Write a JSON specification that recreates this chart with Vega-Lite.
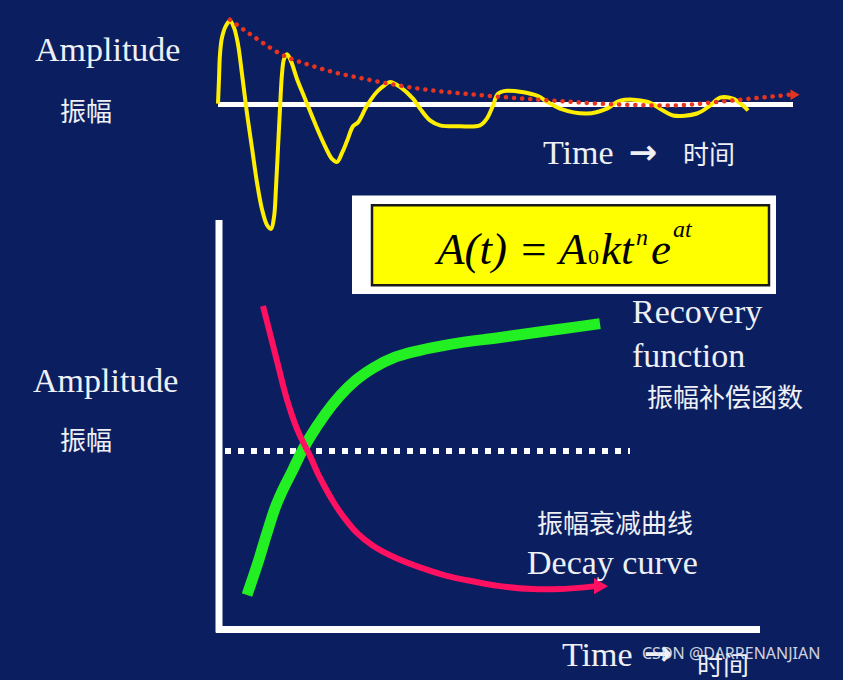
{
  "$schema": "https://vega.github.io/schema/vega-lite/v6.json",
  "width": 843,
  "height": 680,
  "autosize": {"type": "fit", "contains": "padding"},
  "padding": 0,
  "background": "#0b1f60",
  "config": {"view": {"stroke": null}},
  "datasets": {
    "box": [{"x": 352, "x2": 776, "y": 198, "y2": 298}],
    "ybox": [{"x": 372, "x2": 769, "y": 208, "y2": 289}],
    "axes": [
      {"x": 218, "x2": 793, "y": 106, "y2": 106, "w": "top"},
      {"x": 219, "x2": 219, "y": 223, "y2": 641, "w": "bottom"},
      {"x": 216, "x2": 760, "y": 638, "y2": 638, "w": "bottom"}
    ],
    "ref": [{"x": 225, "x2": 630, "y": 457, "y2": 457}],
    "wave": [
      {"i": 1, "x": 218, "y": 105}, {"i": 2, "x": 219, "y": 80}, {"i": 3, "x": 220, "y": 55},
      {"i": 4, "x": 222, "y": 38}, {"i": 5, "x": 226, "y": 26}, {"i": 6, "x": 230, "y": 21},
      {"i": 7, "x": 234, "y": 28}, {"i": 8, "x": 238, "y": 45}, {"i": 9, "x": 242, "y": 75},
      {"i": 10, "x": 247, "y": 115}, {"i": 11, "x": 252, "y": 150}, {"i": 12, "x": 257, "y": 185},
      {"i": 13, "x": 262, "y": 212}, {"i": 14, "x": 267, "y": 228}, {"i": 15, "x": 271, "y": 232},
      {"i": 16, "x": 274, "y": 220}, {"i": 17, "x": 276, "y": 190}, {"i": 18, "x": 278, "y": 150},
      {"i": 19, "x": 280, "y": 110}, {"i": 20, "x": 282, "y": 75}, {"i": 21, "x": 284, "y": 60},
      {"i": 22, "x": 287, "y": 55}, {"i": 23, "x": 291, "y": 62}, {"i": 24, "x": 297, "y": 80},
      {"i": 25, "x": 305, "y": 100}, {"i": 26, "x": 315, "y": 125}, {"i": 27, "x": 325, "y": 148},
      {"i": 28, "x": 332, "y": 161}, {"i": 29, "x": 337, "y": 164}, {"i": 30, "x": 342, "y": 155},
      {"i": 31, "x": 347, "y": 143}, {"i": 32, "x": 353, "y": 128}, {"i": 33, "x": 358, "y": 124},
      {"i": 34, "x": 367, "y": 107}, {"i": 35, "x": 377, "y": 93}, {"i": 36, "x": 385, "y": 86},
      {"i": 37, "x": 390, "y": 83}, {"i": 38, "x": 400, "y": 88}, {"i": 39, "x": 413, "y": 100},
      {"i": 40, "x": 420, "y": 110}, {"i": 41, "x": 430, "y": 122}, {"i": 42, "x": 440, "y": 127},
      {"i": 43, "x": 460, "y": 128}, {"i": 44, "x": 480, "y": 127}, {"i": 45, "x": 487, "y": 120},
      {"i": 46, "x": 493, "y": 107}, {"i": 47, "x": 498, "y": 95}, {"i": 48, "x": 507, "y": 92},
      {"i": 49, "x": 537, "y": 97}, {"i": 50, "x": 547, "y": 103}, {"i": 51, "x": 560, "y": 110},
      {"i": 52, "x": 587, "y": 115}, {"i": 53, "x": 607, "y": 110}, {"i": 54, "x": 620, "y": 102},
      {"i": 55, "x": 647, "y": 103}, {"i": 56, "x": 663, "y": 112}, {"i": 57, "x": 673, "y": 117},
      {"i": 58, "x": 697, "y": 115}, {"i": 59, "x": 710, "y": 107}, {"i": 60, "x": 720, "y": 99},
      {"i": 61, "x": 733, "y": 100}, {"i": 62, "x": 743, "y": 107}, {"i": 63, "x": 748, "y": 112}
    ],
    "envelope": [
      {"x": 230, "y": 20}, {"x": 255, "y": 38}, {"x": 283, "y": 56}, {"x": 310, "y": 66},
      {"x": 333, "y": 73}, {"x": 360, "y": 79}, {"x": 390, "y": 85}, {"x": 420, "y": 90},
      {"x": 487, "y": 97}, {"x": 553, "y": 102}, {"x": 620, "y": 106}, {"x": 670, "y": 107},
      {"x": 720, "y": 103}, {"x": 770, "y": 98}, {"x": 790, "y": 96}
    ],
    "envelopeHead": [{"x": 795, "y": 96}],
    "recovery": [
      {"x": 247, "y": 603}, {"x": 258, "y": 570}, {"x": 267, "y": 540}, {"x": 275, "y": 515},
      {"x": 283, "y": 496}, {"x": 292, "y": 478}, {"x": 300, "y": 461}, {"x": 310, "y": 443},
      {"x": 325, "y": 420}, {"x": 340, "y": 401}, {"x": 355, "y": 386}, {"x": 373, "y": 373},
      {"x": 395, "y": 362}, {"x": 420, "y": 355}, {"x": 450, "y": 349}, {"x": 500, "y": 342},
      {"x": 550, "y": 335}, {"x": 600, "y": 328}
    ],
    "decay": [
      {"x": 263, "y": 310}, {"x": 270, "y": 338}, {"x": 278, "y": 370}, {"x": 287, "y": 405},
      {"x": 296, "y": 432}, {"x": 304, "y": 450}, {"x": 310, "y": 462}, {"x": 317, "y": 478},
      {"x": 323, "y": 490}, {"x": 333, "y": 508}, {"x": 343, "y": 523}, {"x": 357, "y": 540},
      {"x": 373, "y": 553}, {"x": 395, "y": 565}, {"x": 420, "y": 575}, {"x": 445, "y": 583},
      {"x": 467, "y": 588}, {"x": 500, "y": 594}, {"x": 533, "y": 597}, {"x": 560, "y": 597},
      {"x": 587, "y": 595}, {"x": 596, "y": 594}
    ],
    "decayHead": [{"x": 601, "y": 594}],
    "serifLabels": [
      {"x": 35, "y": 62, "t": "Amplitude"},
      {"x": 33, "y": 397, "t": "Amplitude"},
      {"x": 543, "y": 166, "t": "Time"},
      {"x": 562, "y": 675, "t": "Time"},
      {"x": 632, "y": 327, "t": "Recovery"},
      {"x": 632, "y": 372, "t": "function"},
      {"x": 527, "y": 582, "t": "Decay curve"}
    ],
    "arrows": [
      {"x": 643, "y": 156, "t": "→"},
      {"x": 658, "y": 664, "t": "→"}
    ],
    "cjkLabels": [
      {"x": 60, "y": 115, "t": "振幅"},
      {"x": 60, "y": 448, "t": "振幅"},
      {"x": 683, "y": 158, "t": "时间"},
      {"x": 697, "y": 676, "t": "时间"},
      {"x": 647, "y": 404, "t": "振幅补偿函数"},
      {"x": 537, "y": 532, "t": "振幅衰减曲线"}
    ],
    "formulaMain": [
      {"x": 437, "y": 268, "t": "A(t) = A"},
      {"x": 601, "y": 268, "t": "kt"},
      {"x": 651, "y": 268, "t": "e"}
    ],
    "formulaSub": [{"x": 588, "y": 268, "t": "0"}],
    "formulaSup": [
      {"x": 636, "y": 248, "t": "n"},
      {"x": 673, "y": 240, "t": "at"}
    ],
    "watermark": [{"x": 642, "y": 668, "t": "CSDN @DARRENANJIAN"}]
  },
  "encoding": {
    "x": {"field": "x", "type": "quantitative", "scale": {"domain": [0, 843], "nice": false, "zero": false}, "axis": null},
    "y": {"field": "y", "type": "quantitative", "scale": {"domain": [0, 680], "nice": false, "zero": false, "reverse": true}, "axis": null}
  },
  "layer": [
    {
      "data": {"name": "box"},
      "mark": {"type": "rect", "fill": "#ffffff"},
      "encoding": {"x2": {"field": "x2"}, "y2": {"field": "y2"}}
    },
    {
      "data": {"name": "ybox"},
      "mark": {"type": "rect", "fill": "#ffff00", "stroke": "#1a1a1a", "strokeWidth": 2.5},
      "encoding": {"x2": {"field": "x2"}, "y2": {"field": "y2"}}
    },
    {
      "data": {"name": "axes"},
      "transform": [{"filter": "datum.w == 'top'"}],
      "mark": {"type": "rule", "color": "#ffffff", "strokeWidth": 5},
      "encoding": {"x2": {"field": "x2"}, "y2": {"field": "y2"}}
    },
    {
      "data": {"name": "axes"},
      "transform": [{"filter": "datum.w == 'bottom'"}],
      "mark": {"type": "rule", "color": "#ffffff", "strokeWidth": 7},
      "encoding": {"x2": {"field": "x2"}, "y2": {"field": "y2"}}
    },
    {
      "data": {"name": "ref"},
      "mark": {"type": "rule", "color": "#ffffff", "strokeWidth": 6, "strokeDash": [6, 7]},
      "encoding": {"x2": {"field": "x2"}, "y2": {"field": "y2"}}
    },
    {
      "data": {"name": "wave"},
      "mark": {"type": "line", "color": "#ffee00", "strokeWidth": 4, "interpolate": "catmull-rom"},
      "encoding": {"order": {"field": "i", "type": "quantitative"}}
    },
    {
      "data": {"name": "envelope"},
      "mark": {"type": "line", "color": "#e8341f", "strokeWidth": 4.5, "strokeDash": [0.1, 8], "strokeCap": "round", "interpolate": "monotone"},
      "encoding": {}
    },
    {
      "data": {"name": "envelopeHead"},
      "mark": {"type": "point", "shape": "triangle-right", "filled": true, "color": "#e8341f", "size": 110, "opacity": 1},
      "encoding": {}
    },
    {
      "data": {"name": "recovery"},
      "mark": {"type": "line", "color": "#22f022", "strokeWidth": 11, "interpolate": "monotone"},
      "encoding": {}
    },
    {
      "data": {"name": "decay"},
      "mark": {"type": "line", "color": "#ff1060", "strokeWidth": 6, "interpolate": "catmull-rom"},
      "encoding": {}
    },
    {
      "data": {"name": "decayHead"},
      "mark": {"type": "point", "shape": "triangle-right", "filled": true, "color": "#ff1060", "size": 260, "opacity": 1},
      "encoding": {}
    },
    {
      "data": {"name": "serifLabels"},
      "mark": {"type": "text", "font": "Liberation Serif", "fontSize": 34, "color": "#eef0f6", "align": "left", "baseline": "alphabetic"},
      "encoding": {"text": {"field": "t"}}
    },
    {
      "data": {"name": "arrows"},
      "mark": {"type": "text", "font": "DejaVu Sans", "fontSize": 34, "fontWeight": "bold", "color": "#eef0f6", "align": "center", "baseline": "middle"},
      "encoding": {"text": {"field": "t"}}
    },
    {
      "data": {"name": "cjkLabels"},
      "mark": {"type": "text", "font": "Noto Sans CJK SC", "fontSize": 26, "color": "#eef0f6", "align": "left", "baseline": "middle"},
      "encoding": {"text": {"field": "t"}}
    },
    {
      "data": {"name": "formulaMain"},
      "mark": {"type": "text", "font": "Liberation Serif", "fontSize": 45, "fontStyle": "italic", "color": "#000000", "align": "left", "baseline": "alphabetic"},
      "encoding": {"text": {"field": "t"}}
    },
    {
      "data": {"name": "formulaSub"},
      "mark": {"type": "text", "font": "Liberation Serif", "fontSize": 22, "color": "#000000", "align": "left", "baseline": "alphabetic"},
      "encoding": {"text": {"field": "t"}}
    },
    {
      "data": {"name": "formulaSup"},
      "mark": {"type": "text", "font": "Liberation Serif", "fontSize": 24, "fontStyle": "italic", "color": "#000000", "align": "left", "baseline": "alphabetic"},
      "encoding": {"text": {"field": "t"}}
    },
    {
      "data": {"name": "watermark"},
      "mark": {"type": "text", "font": "Noto Sans", "fontSize": 16, "color": "#e4e6ee", "opacity": 0.9, "align": "left", "baseline": "alphabetic"},
      "encoding": {"text": {"field": "t"}}
    }
  ]
}
